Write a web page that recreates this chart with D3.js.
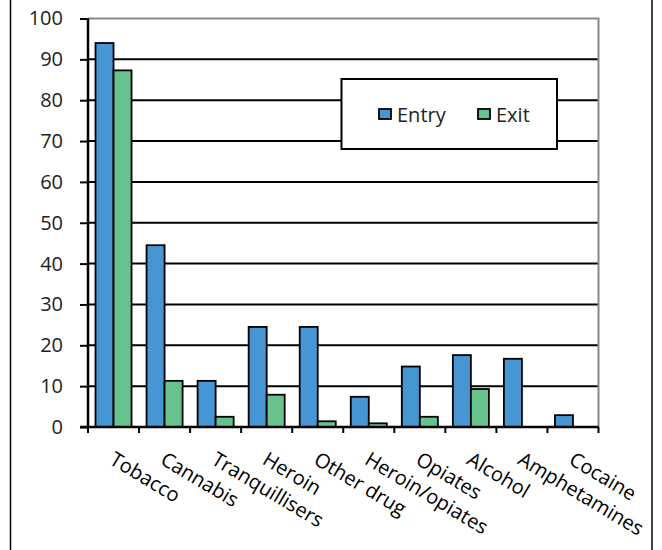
<!DOCTYPE html>
<html><head><meta charset="utf-8">
<script src="https://cdn.jsdelivr.net/npm/d3@7"></script>
<style>html,body{margin:0;padding:0;background:#fff;} svg{display:block;}</style>
</head><body>
<script>
const categories = ["Tobacco","Cannabis","Tranquillisers","Heroin","Other drug","Heroin/opiates","Opiates","Alcohol","Amphetamines","Cocaine"];
const entryValues = [94, 44.5, 11.3, 24.5, 24.5, 7.4, 14.8, 17.6, 16.7, 2.9];
const exitValues  = [87.3, 11.3, 2.5, 7.9, 1.4, 0.9, 2.5, 9.3, 0, 0];
const seriesNames = ["Entry","Exit"];
const yTicks = [0,10,20,30,40,50,60,70,80,90,100];

(function () {
const W = 662, H = 550;
const font = "'Open Sans', 'Noto Sans', sans-serif";
const colors = {Entry: "#4596d2", Exit: "#68c28e"};
const svg = d3.select("body").append("svg").attr("width", W).attr("height", H);
svg.append("rect").attr("width", W).attr("height", H).attr("fill", "#fff");
// outer border (only sides visible)
svg.append("rect").attr("x", 10.5).attr("y", -5).attr("width", 641.5).attr("height", H + 10)
  .attr("fill", "none").attr("stroke", "#000").attr("stroke-width", 1.5);

const pLeft = 88, pRight = 598.5, pTop = 18.5, pBottom = 427;
const y = d3.scaleLinear().domain([0, 100]).range([pBottom, pTop]);
const x0 = d3.scaleBand().domain(categories).range([pLeft, pRight]).paddingInner(15/51).paddingOuter(7.5/51);
const x1 = d3.scaleBand().domain(seriesNames).range([0, x0.bandwidth()]);

// gridlines
svg.append("g").selectAll("line").data(yTicks.filter(t => t > 0 && t < 100)).join("line")
  .attr("x1", pLeft).attr("x2", pRight).attr("y1", d => y(d)).attr("y2", d => y(d))
  .attr("stroke", "#000").attr("stroke-width", 2);
// plot top & right border grey
svg.append("path").attr("d", `M${pLeft},${y(100)}H${pRight}V${pBottom}`)
  .attr("fill", "none").attr("stroke", "#888").attr("stroke-width", 2);

// bars
const data = categories.map((c, i) => ({cat: c, vals: [{s: "Entry", v: entryValues[i]}, {s: "Exit", v: exitValues[i]}]}));
const g = svg.append("g");
data.forEach(d => {
  d.vals.filter(e => e.v > 0).forEach(e => {
    g.append("rect")
      .attr("x", x0(d.cat) + x1(e.s)).attr("y", y(e.v))
      .attr("width", x1.bandwidth()).attr("height", y(0) - y(e.v))
      .attr("fill", colors[e.s]).attr("stroke", "#000").attr("stroke-width", 1.8);
  });
});

// y axis
const yAxis = d3.axisLeft(y).tickValues(yTicks).tickSize(8).tickPadding(17);
const ya = svg.append("g").attr("transform", `translate(${pLeft},0)`).call(yAxis);
ya.select(".domain").attr("stroke", "#000").attr("stroke-width", 2.5).attr("d", `M0,${y(100)}V${pBottom}`);
ya.selectAll(".tick line").attr("stroke", "#000").attr("stroke-width", 2);
ya.selectAll(".tick text").attr("font-family", font).attr("font-size", 20).attr("fill", "#222");

// x axis
const boundaries = d3.range(categories.length + 1).map(i => pLeft + i * x0.step());
const xa = svg.append("g");
xa.append("line").attr("x1", pLeft - 8).attr("x2", pRight).attr("y1", pBottom).attr("y2", pBottom)
  .attr("stroke", "#000").attr("stroke-width", 2.5);
xa.selectAll("line.tk").data(boundaries).join("line").attr("class", "tk")
  .attr("x1", d => d).attr("x2", d => d).attr("y1", pBottom).attr("y2", pBottom + 6)
  .attr("stroke", "#000").attr("stroke-width", 2);
xa.selectAll("text").data(categories).join("text")
  .attr("transform", d => `translate(${x0(d) + x0.bandwidth()/2 + 2},${pBottom + 24}) rotate(31)`)
  .attr("dy", "0.71em")
  .attr("font-family", font).attr("font-size", 20).attr("fill", "#000")
  .text(d => d);

// legend
const lg = svg.append("g");
lg.append("rect").attr("x", 341.5).attr("y", 79).attr("width", 215.5).attr("height", 70)
  .attr("fill", "#fff").attr("stroke", "#000").attr("stroke-width", 2);
const legX = {Entry: 379, Exit: 478};
seriesNames.forEach(s => {
  lg.append("rect").attr("x", legX[s]).attr("y", 109).attr("width", 12).attr("height", 10)
    .attr("fill", colors[s]).attr("stroke", "#000").attr("stroke-width", 1.8);
  lg.append("text").attr("x", legX[s] + 18).attr("y", 121.5)
    .attr("font-family", font).attr("font-size", 20).attr("fill", "#222").text(s);
});
})();
</script>
</body></html>
